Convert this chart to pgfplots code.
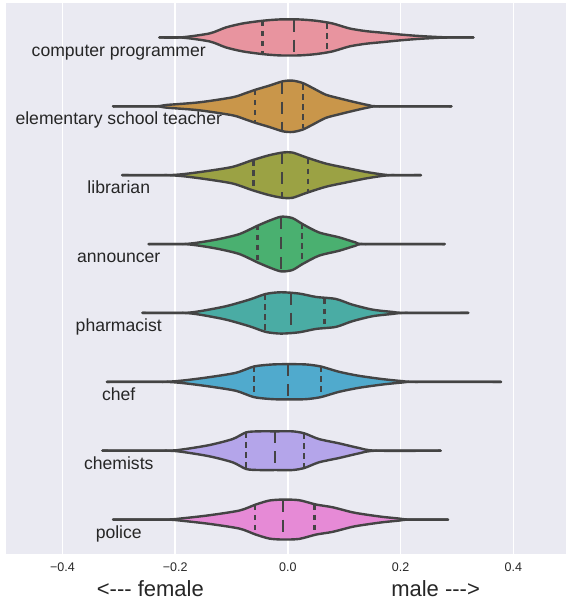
\documentclass[border=0pt]{standalone}
\usepackage{fontspec}
\setmainfont{Liberation Sans}
\usepackage{pgfplots}
\pgfplotsset{compat=1.18}
\usepackage{pgfplotstable}
\usepgfplotslibrary{fillbetween}

\definecolor{bgc}{HTML}{EAEAF2}
\definecolor{vline}{HTML}{444444}
\definecolor{labc}{HTML}{262626}
\definecolor{cA}{HTML}{E8949F}
\definecolor{cB}{HTML}{C9964A}
\definecolor{cC}{HTML}{9BA244}
\definecolor{cD}{HTML}{4AB070}
\definecolor{cE}{HTML}{4AACA4}
\definecolor{cF}{HTML}{50AACD}
\definecolor{cG}{HTML}{B4A5EA}
\definecolor{cH}{HTML}{E68AD6}

% violin profiles: x, half-width h (category units)
\pgfplotstableread{
x h
-0.228 0
-0.190 0
-0.139 0.058
-0.110 0.145
-0.080 0.203
-0.045 0.242
-0.015 0.261
0.020 0.261
0.050 0.242
0.079 0.203
0.109 0.131
0.138 0.092
0.168 0.068
0.197 0.044
0.227 0.024
0.256 0.010
0.280 0.002
0.329 0
}\vA
\pgfplotstableread{
x h
-0.310 0
-0.234 0
-0.216 0.019
-0.157 0.058
-0.098 0.131
-0.074 0.194
-0.057 0.242
-0.033 0.300
-0.009 0.363
0.008 0.373
0.026 0.339
0.044 0.266
0.067 0.169
0.091 0.116
0.120 0.058
0.144 0.015
0.162 0
0.290 0
}\vB
\pgfplotstableread{
x h
-0.294 0
-0.216 0
-0.186 0.015
-0.145 0.058
-0.098 0.121
-0.063 0.218
-0.033 0.290
-0.009 0.329
0.008 0.329
0.032 0.260
0.067 0.169
0.103 0.106
0.138 0.048
0.168 0.010
0.185 0
0.236 0
}\vC
\pgfplotstableread{
x h
-0.247 0
-0.186 0
-0.157 0.024
-0.122 0.073
-0.086 0.145
-0.054 0.266
-0.033 0.339
-0.012 0.397
0.008 0.377
0.026 0.290
0.055 0.169
0.091 0.097
0.120 0.024
0.138 0
0.278 0
}\vD
\pgfplotstableread{
x h
-0.258 0
-0.186 0
-0.157 0.024
-0.110 0.097
-0.068 0.194
-0.039 0.276
-0.012 0.300
0.020 0.281
0.050 0.232
0.085 0.203
0.114 0.121
0.150 0.048
0.185 0.015
0.209 0
0.320 0
}\vE
\pgfplotstableread{
x h
-0.321 0
-0.222 0
-0.186 0.019
-0.139 0.068
-0.092 0.131
-0.060 0.223
-0.027 0.252
0.002 0.256
0.032 0.252
0.058 0.223
0.091 0.145
0.126 0.087
0.168 0.039
0.203 0.010
0.227 0
0.378 0
}\vF
\pgfplotstableread{
x h
-0.329 0
-0.216 0
-0.186 0.019
-0.139 0.082
-0.098 0.169
-0.074 0.266
-0.051 0.281
-0.021 0.281
0.008 0.281
0.029 0.252
0.055 0.169
0.091 0.106
0.126 0.039
0.156 0
0.271 0
}\vG
\pgfplotstableread{
x h
-0.310 0
-0.216 0
-0.186 0.019
-0.139 0.063
-0.086 0.131
-0.057 0.218
-0.033 0.276
-0.009 0.290
0.020 0.281
0.050 0.218
0.079 0.179
0.114 0.106
0.138 0.073
0.168 0.039
0.197 0.015
0.215 0
0.284 0
}\vH

\pgfplotsset{
  vs/.style={smooth, tension=0.45},
  vl/.style={vs, draw=vline, line width=2.4pt, line join=round, line cap=round, mark=none},
  qd/.style={draw=vline, line width=2.2pt, mark=none, dash pattern=on 5.5pt off 4.5pt},
  md/.style={draw=vline, line width=2.2pt, mark=none, dash pattern=on 12pt off 8pt},
}

\newcommand{\violin}[3]{%
  \addplot[vs, draw=none, name path=u#2] table[x=x, y expr=#2-\thisrow{h}] {#1};
  \addplot[vs, draw=none, name path=l#2] table[x=x, y expr=#2+\thisrow{h}] {#1};
  \addplot[fill=#3, draw=none] fill between[of=u#2 and l#2];
  \addplot[vl] table[x=x, y expr=#2-\thisrow{h}] {#1};
  \addplot[vl] table[x=x, y expr=#2+\thisrow{h}] {#1};
}

\begin{document}
\begin{tikzpicture}
\begin{axis}[
  width=560pt, height=551pt, scale only axis,
  xmin=-0.5, xmax=0.4933, ymin=-0.5, ymax=7.5, y dir=reverse,
  axis background/.style={fill=bgc},
  axis line style={draw=none},
  ytick=\empty,
  xtick={-0.4,-0.2,0,0.2,0.4},
  xticklabels={−0.4,−0.2,0.0,0.2,0.4},
  major tick length=0pt,
  xmajorgrids, grid style={white, line width=1.4pt},
  xticklabel style={font=\fontsize{12.5}{14}\selectfont, text=labc, anchor=base, yshift=-17.5pt},
  clip=false,
]
\violin{\vA}{0}{cA}
\violin{\vB}{1}{cB}
\violin{\vC}{2}{cC}
\violin{\vD}{3}{cD}
\violin{\vE}{4}{cE}
\violin{\vF}{5}{cF}
\violin{\vG}{6}{cG}
\violin{\vH}{7}{cH}

% quartile lines
\addplot[qd] coordinates {(-0.045,-0.240) (-0.045,0.240)};
\addplot[md] coordinates {(0.011,-0.260) (0.011,0.260)};
\addplot[qd] coordinates {(0.069,-0.205) (0.069,0.205)};

\addplot[qd] coordinates {(-0.058,0.763) (-0.058,1.237)};
\addplot[md] coordinates {(-0.010,0.640) (-0.010,1.360)};
\addplot[qd] coordinates {(0.027,0.680) (0.027,1.320)};

\addplot[qd] coordinates {(-0.061,1.782) (-0.061,2.218)};
\addplot[md] coordinates {(-0.011,1.670) (-0.011,2.330)};
\addplot[qd] coordinates {(0.035,1.760) (0.035,2.240)};

\addplot[qd] coordinates {(-0.054,2.720) (-0.054,3.280)};
\addplot[md] coordinates {(-0.012,2.605) (-0.012,3.395)};
\addplot[qd] coordinates {(0.025,2.695) (0.025,3.305)};

\addplot[qd] coordinates {(-0.041,3.728) (-0.041,4.272)};
\addplot[md] coordinates {(0.006,3.705) (0.006,4.295)};
\addplot[qd] coordinates {(0.065,3.792) (0.065,4.208)};

\addplot[qd] coordinates {(-0.060,4.775) (-0.060,5.225)};
\addplot[md] coordinates {(0.000,4.744) (0.000,5.256)};
\addplot[qd] coordinates {(0.058,4.775) (0.058,5.225)};

\addplot[qd] coordinates {(-0.074,5.734) (-0.074,6.266)};
\addplot[md] coordinates {(-0.023,5.719) (-0.023,6.281)};
\addplot[qd] coordinates {(0.028,5.745) (0.028,6.255)};

\addplot[qd] coordinates {(-0.059,6.785) (-0.059,7.215)};
\addplot[md] coordinates {(-0.008,6.710) (-0.008,7.290)};
\addplot[qd] coordinates {(0.047,6.782) (0.047,7.218)};

% category labels
\tikzset{catl/.style={anchor=base, text=labc, font=\fontsize{17.6}{20}\selectfont, inner sep=0pt}}
\node[catl] at (axis cs:-0.3,0.271) {computer programmer};
\node[catl] at (axis cs:-0.3,1.271) {elementary school teacher};
\node[catl] at (axis cs:-0.3,2.271) {librarian};
\node[catl] at (axis cs:-0.3,3.271) {announcer};
\node[catl] at (axis cs:-0.3,4.271) {pharmacist};
\node[catl] at (axis cs:-0.3,5.271) {chef};
\node[catl] at (axis cs:-0.3,6.271) {chemists};
\node[catl] at (axis cs:-0.3,7.271) {police};

% direction labels
\node[anchor=base, text=labc, font=\fontsize{22}{26}\selectfont, inner sep=0pt] at (axis cs:-0.244,7.5) [yshift=-42pt] {<-{}-{}- female};
\node[anchor=base, text=labc, font=\fontsize{22}{26}\selectfont, inner sep=0pt] at (axis cs:0.262,7.5) [yshift=-42pt] {male -{}-{}->};
\end{axis}
\pgfresetboundingbox
\path[use as bounding box] ([xshift=-6pt,yshift=-47pt]current axis.south west) rectangle ([yshift=3pt]current axis.north east);
\end{tikzpicture}
\end{document}
